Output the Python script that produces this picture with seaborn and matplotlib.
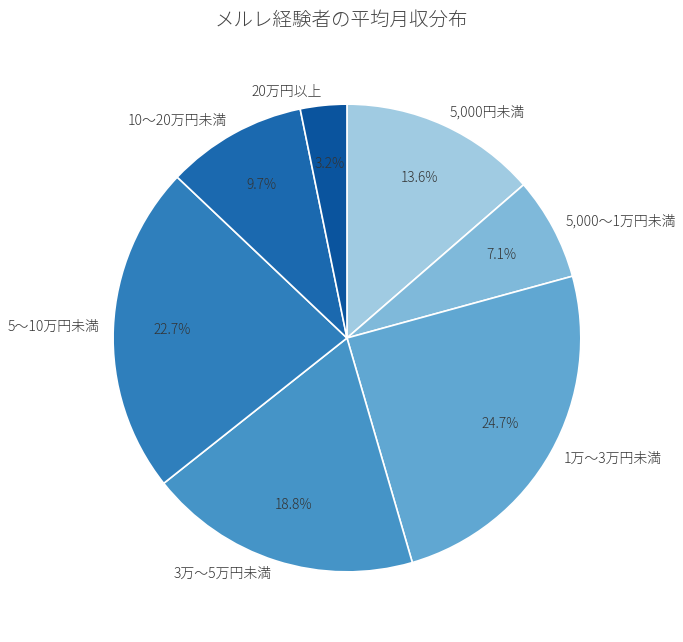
import matplotlib
matplotlib.use("Agg")
import matplotlib.pyplot as plt
import seaborn as sns
import numpy as np

# データ
labels = ["5,000円未満", "5,000〜1万円未満", "1万〜3万円未満", "3万〜5万円未満",
          "5〜10万円未満", "10〜20万円未満", "20万円以上"]
shares = [13.6, 7.1, 24.7, 18.8, 22.7, 9.7, 3.2]

sns.set_style("white")
plt.rcParams['font.family'] = ['Noto Sans CJK JP', 'DejaVu Sans']

cmap = sns.color_palette("Blues", as_cmap=True)
colors = [cmap(v) for v in np.linspace(0.37, 0.86, len(shares))]

fig = plt.figure(figsize=(6.83, 6.42), dpi=100)
ax = fig.add_axes([0.080, 0.018, 0.856, 0.911])
wedges, texts, autotexts = ax.pie(
    shares, labels=labels, colors=colors, startangle=90, counterclock=False,
    autopct='%1.1f%%', pctdistance=0.75, labeldistance=1.06,
    wedgeprops=dict(edgecolor='white', linewidth=1.2),
    textprops=dict(color='#333333', fontsize=10, fontweight='light'),
)
for t in autotexts:
    t.set_fontsize(9.8)
ax.set_aspect('equal')
fig.text(0.5, 0.968, "メルレ経験者の平均月収分布", fontsize=14, color='#444444',
         ha='center', va='center', fontweight='light')
fig.savefig("out.png", dpi=100)
